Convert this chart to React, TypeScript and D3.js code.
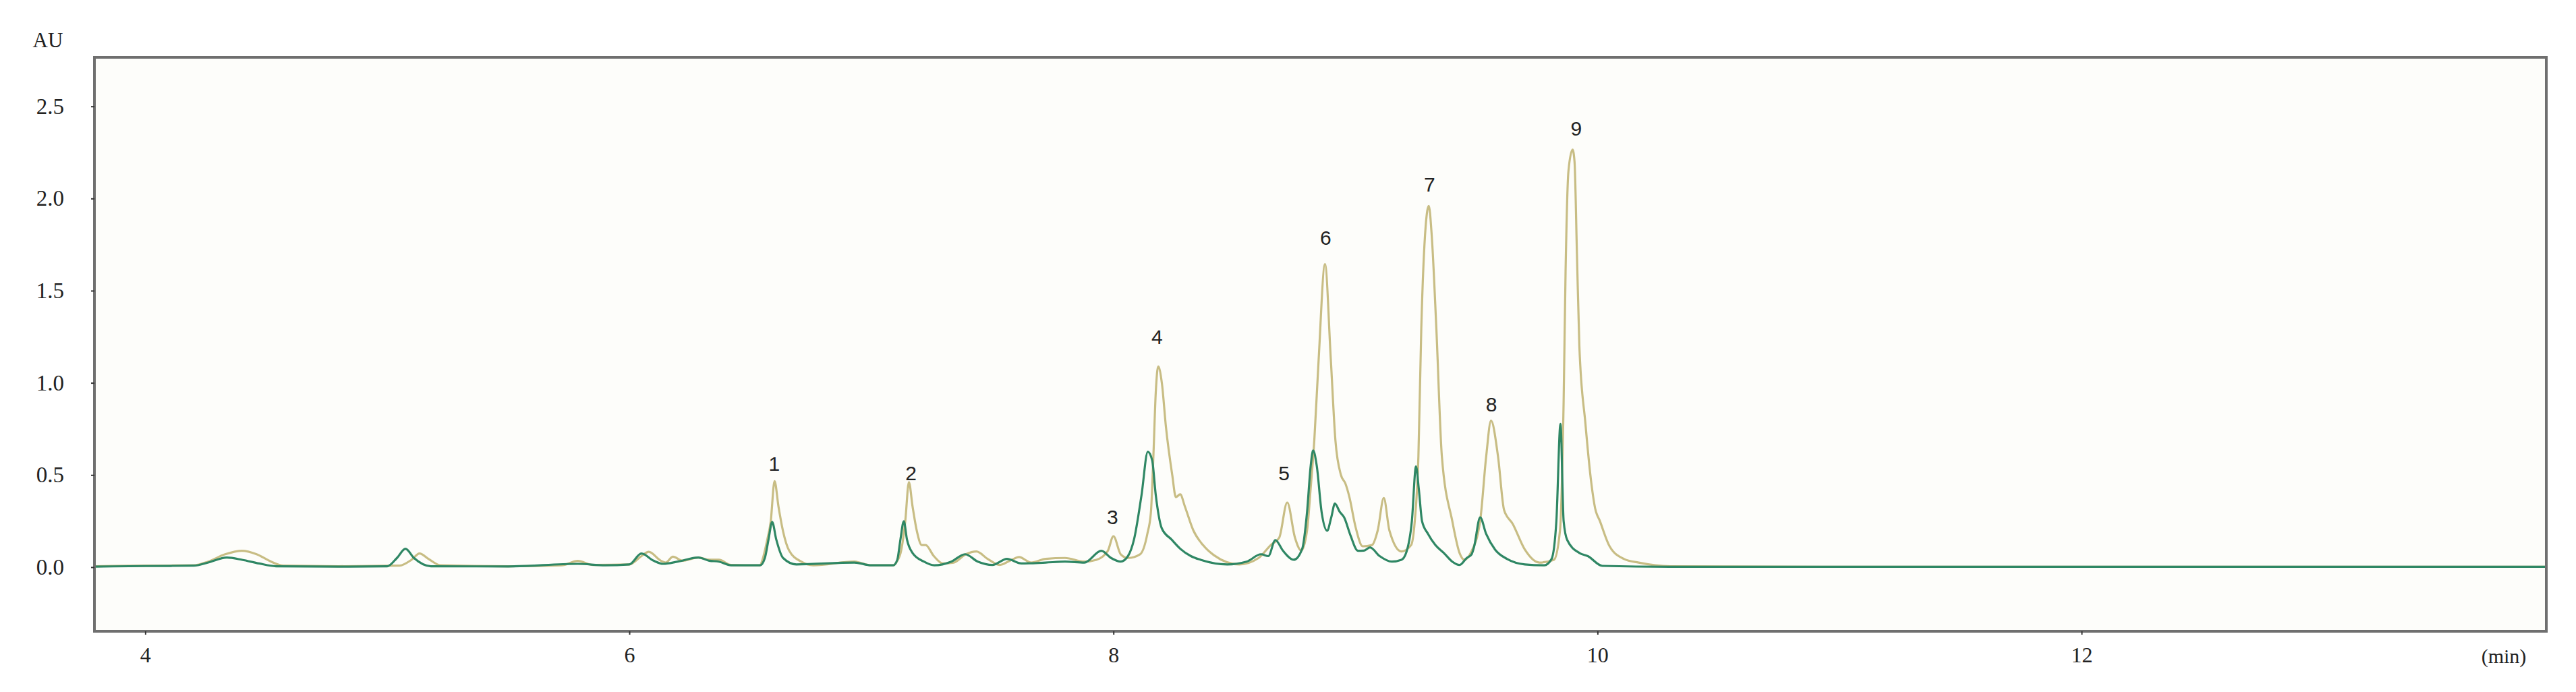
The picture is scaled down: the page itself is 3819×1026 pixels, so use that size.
import React, { useEffect, useRef } from 'react';
import * as d3 from 'd3';

// retention time (min) / absorbance (AU)
const tanTimes = [
  3.79, 4.0, 4.2, 4.26, 4.33, 4.4, 4.46, 4.52, 4.57, 4.8, 5.05, 5.1, 5.133, 5.17, 5.22, 5.5, 5.72, 5.787,
  5.85, 6.0, 6.05, 6.08, 6.13, 6.15, 6.18, 6.22, 6.285, 6.33, 6.37, 6.42, 6.54, 6.55, 6.57, 6.584, 6.6,
  6.616, 6.635, 6.66, 6.71, 6.76, 6.93, 7.0, 7.09, 7.105, 7.123, 7.14, 7.155, 7.17, 7.188, 7.208, 7.224,
  7.258, 7.295, 7.34, 7.39, 7.434, 7.48, 7.53, 7.58, 7.61, 7.66, 7.72, 7.8, 7.88, 7.93, 7.977, 8.0, 8.03,
  8.06, 8.11, 8.14, 8.155, 8.165, 8.175, 8.185, 8.2, 8.217, 8.243, 8.258, 8.276, 8.295, 8.33, 8.37, 8.415,
  8.52, 8.6, 8.65, 8.685, 8.718, 8.75, 8.776, 8.8, 8.815, 8.83, 8.848, 8.874, 8.898, 8.917, 8.94, 8.958,
  8.975, 9.0, 9.03, 9.068, 9.092, 9.117, 9.14, 9.19, 9.23, 9.245, 9.26, 9.272, 9.29, 9.303, 9.315, 9.334,
  9.357, 9.4, 9.43, 9.45, 9.476, 9.515, 9.54, 9.56, 9.589, 9.614, 9.65, 9.7, 9.76, 9.82, 9.845, 9.86,
  9.868, 9.88, 9.897, 9.905, 9.915, 9.925, 9.95, 9.975, 9.99, 10.01, 10.05, 10.11, 10.17, 10.3, 11.0, 12.0,
  13.92,
];
const tanValues = [
  0.005, 0.008, 0.01, 0.03, 0.07, 0.089, 0.07, 0.03, 0.008, 0.005, 0.008, 0.04, 0.074, 0.045, 0.01, 0.005,
  0.01, 0.034, 0.012, 0.015, 0.06, 0.083, 0.035, 0.025, 0.057, 0.035, 0.052, 0.04, 0.04, 0.012, 0.01, 0.04,
  0.15, 0.246, 0.467, 0.33, 0.195, 0.09, 0.03, 0.01, 0.03, 0.01, 0.01, 0.03, 0.09, 0.25, 0.461, 0.33, 0.195,
  0.12, 0.12, 0.06, 0.02, 0.025, 0.07, 0.085, 0.045, 0.012, 0.04, 0.055, 0.025, 0.045, 0.05, 0.03, 0.04,
  0.089, 0.168, 0.07, 0.05, 0.07, 0.18, 0.3, 0.6, 0.95, 1.089, 1.0, 0.76, 0.5, 0.38, 0.395, 0.33, 0.2,
  0.12, 0.065, 0.015, 0.05, 0.12, 0.16, 0.351, 0.16, 0.09, 0.2, 0.43, 0.69, 1.13, 1.644, 1.13, 0.69, 0.5,
  0.455, 0.38, 0.22, 0.113, 0.12, 0.2, 0.375, 0.2, 0.085, 0.12, 0.25, 0.6, 1.3, 1.85, 1.96, 1.8, 1.3, 0.6,
  0.25, 0.077, 0.04, 0.077, 0.25, 0.6, 0.795, 0.6, 0.31, 0.234, 0.095, 0.025, 0.04, 0.2, 0.9, 1.6, 2.15,
  2.265, 2.2, 1.7, 1.2, 0.78, 0.45, 0.32, 0.25, 0.113, 0.044, 0.025, 0.005, 0.002, 0.002, 0.002,
];

const greenTimes = [
  3.79, 4.0, 4.2, 4.26, 4.337, 4.4, 4.47, 4.54, 4.8, 5.0, 5.04, 5.075, 5.11, 5.18, 5.5, 5.787, 5.9, 6.0,
  6.05, 6.1, 6.14, 6.2, 6.285, 6.33, 6.37, 6.42, 6.54, 6.56, 6.575, 6.59, 6.607, 6.635, 6.69, 6.93, 7.0,
  7.09, 7.107, 7.12, 7.134, 7.147, 7.17, 7.217, 7.26, 7.33, 7.387, 7.44, 7.5, 7.56, 7.62, 7.72, 7.8, 7.88,
  7.95, 7.99, 8.03, 8.06, 8.085, 8.116, 8.142, 8.16, 8.175, 8.2, 8.24, 8.276, 8.32, 8.36, 8.47, 8.55, 8.61,
  8.64, 8.669, 8.7, 8.745, 8.78, 8.8, 8.815, 8.825, 8.84, 8.86, 8.883, 8.9, 8.915, 8.935, 8.953, 8.98,
  9.01, 9.035, 9.06, 9.1, 9.15, 9.19, 9.21, 9.233, 9.25, 9.262, 9.275, 9.3, 9.33, 9.365, 9.4, 9.43, 9.46,
  9.48, 9.49, 9.515, 9.54, 9.577, 9.627, 9.7, 9.78, 9.81, 9.83, 9.847, 9.86, 9.875, 9.925, 9.96, 10.02,
  10.3, 12.0, 13.92,
];
const greenValues = [
  0.003, 0.006, 0.008, 0.025, 0.052, 0.04, 0.02, 0.005, 0.003, 0.005, 0.05, 0.1, 0.05, 0.005, 0.004, 0.018,
  0.01, 0.015, 0.074, 0.035, 0.018, 0.03, 0.052, 0.035, 0.03, 0.01, 0.01, 0.05, 0.15, 0.245, 0.15, 0.05,
  0.015, 0.025, 0.01, 0.01, 0.04, 0.15, 0.249, 0.15, 0.077, 0.03, 0.01, 0.03, 0.07, 0.03, 0.012, 0.045,
  0.02, 0.025, 0.03, 0.025, 0.089, 0.05, 0.03, 0.06, 0.15, 0.39, 0.626, 0.58, 0.39, 0.21, 0.15, 0.1, 0.06,
  0.04, 0.015, 0.03, 0.07, 0.06, 0.147, 0.09, 0.04, 0.1, 0.3, 0.55, 0.633, 0.55, 0.3, 0.198, 0.27, 0.345,
  0.3, 0.27, 0.17, 0.089, 0.09, 0.107, 0.06, 0.03, 0.04, 0.08, 0.25, 0.546, 0.42, 0.25, 0.18, 0.12, 0.077,
  0.03, 0.012, 0.05, 0.07, 0.11, 0.27, 0.18, 0.095, 0.044, 0.015, 0.01, 0.044, 0.25, 0.778, 0.25, 0.147,
  0.077, 0.06, 0.007, 0.002, 0.002, 0.002,
];

const peakLabels = ['1', '2', '3', '4', '5', '6', '7', '8', '9'];
const peakLabelTimes = [6.599, 7.164, 7.996, 8.18, 8.705, 8.877, 9.306, 9.562, 9.912];
const peakLabelValues = [0.563, 0.509, 0.271, 1.248, 0.509, 1.786, 2.077, 0.882, 2.379];

const xTicks = [4, 6, 8, 10, 12];
const yTicks = [0, 0.5, 1.0, 1.5, 2.0, 2.5];

export default function App() {
  const ref = useRef(null);

  useEffect(() => {
    const element = ref.current;
    if (!element) return;
    document.body.style.margin = '0';

    const width = 3819;
    const height = 1026;
    const margin = { top: 85, right: 44, bottom: 90, left: 140 };

    const svg = d3.select(element);
    svg.selectAll('*').remove();

    const x = d3.scaleLinear().domain([3.79, 13.92]).range([margin.left, width - margin.right]);
    const y = d3.scaleLinear().domain([-0.348, 2.766]).range([height - margin.bottom, margin.top]);

    // plot area
    svg
      .append('rect')
      .attr('x', margin.left)
      .attr('y', margin.top)
      .attr('width', width - margin.left - margin.right)
      .attr('height', height - margin.top - margin.bottom)
      .attr('fill', '#fdfdfa');

    const line = d3
      .line()
      .x((d) => x(d[0]))
      .y((d) => y(d[1]))
      .curve(d3.curveMonotoneX);

    const tan = tanTimes.map((t, i) => [t, tanValues[i]]);
    const green = greenTimes.map((t, i) => [t, greenValues[i]]);

    svg
      .append('path')
      .datum(tan)
      .attr('d', line)
      .attr('fill', 'none')
      .attr('stroke', '#c8bd84')
      .attr('stroke-width', 3.2)
      .attr('stroke-linejoin', 'round');

    svg
      .append('path')
      .datum(green)
      .attr('d', line)
      .attr('fill', 'none')
      .attr('stroke', '#2f8764')
      .attr('stroke-width', 3.2)
      .attr('stroke-linejoin', 'round');

    // frame
    svg
      .append('rect')
      .attr('x', margin.left)
      .attr('y', margin.top)
      .attr('width', width - margin.left - margin.right)
      .attr('height', height - margin.top - margin.bottom)
      .attr('fill', 'none')
      .attr('stroke', '#6f6f6f')
      .attr('stroke-width', 4);

    const serif = '"Liberation Serif", "DejaVu Serif", serif';

    // axes
    const yAxis = svg
      .append('g')
      .attr('transform', `translate(${margin.left},0)`)
      .call(d3.axisLeft(y).tickValues(yTicks).tickFormat(d3.format('.1f')).tickSize(5).tickPadding(40));
    yAxis.select('.domain').remove();
    yAxis.selectAll('line').attr('stroke', '#333').attr('stroke-width', 2);
    yAxis
      .selectAll('text')
      .attr('fill', '#222')
      .style('font-family', serif)
      .style('font-size', '33px');

    const xAxis = svg
      .append('g')
      .attr('transform', `translate(0,${height - margin.bottom})`)
      .call(d3.axisBottom(x).tickValues(xTicks).tickFormat(d3.format('d')).tickSize(5).tickPadding(18));
    xAxis.select('.domain').remove();
    xAxis.selectAll('line').attr('stroke', '#333').attr('stroke-width', 2);
    xAxis
      .selectAll('text')
      .attr('fill', '#222')
      .style('font-family', serif)
      .style('font-size', '32px');

    svg
      .append('text')
      .attr('x', 71)
      .attr('y', 70)
      .attr('text-anchor', 'middle')
      .attr('fill', '#222')
      .style('font-family', serif)
      .style('font-size', '31px')
      .text('AU');

    svg
      .append('text')
      .attr('x', 3712)
      .attr('y', 983)
      .attr('text-anchor', 'middle')
      .attr('fill', '#222')
      .style('font-family', serif)
      .style('font-size', '30px')
      .text('(min)');

    // peak numbers
    svg
      .selectAll('text.peak')
      .data(peakLabels)
      .join('text')
      .attr('class', 'peak')
      .attr('x', (d, i) => x(peakLabelTimes[i]))
      .attr('y', (d, i) => y(peakLabelValues[i]))
      .attr('dy', '0.35em')
      .attr('text-anchor', 'middle')
      .attr('fill', '#222')
      .style('font-family', '"Liberation Sans", Arial, sans-serif')
      .style('font-size', '30px')
      .text((d) => d);
  }, []);

  return (
    <div style={{ position: 'absolute', left: 0, top: 0, background: '#fff' }}>
      <svg ref={ref} width={3819} height={1026} style={{ display: 'block' }} />
    </div>
  );
}
